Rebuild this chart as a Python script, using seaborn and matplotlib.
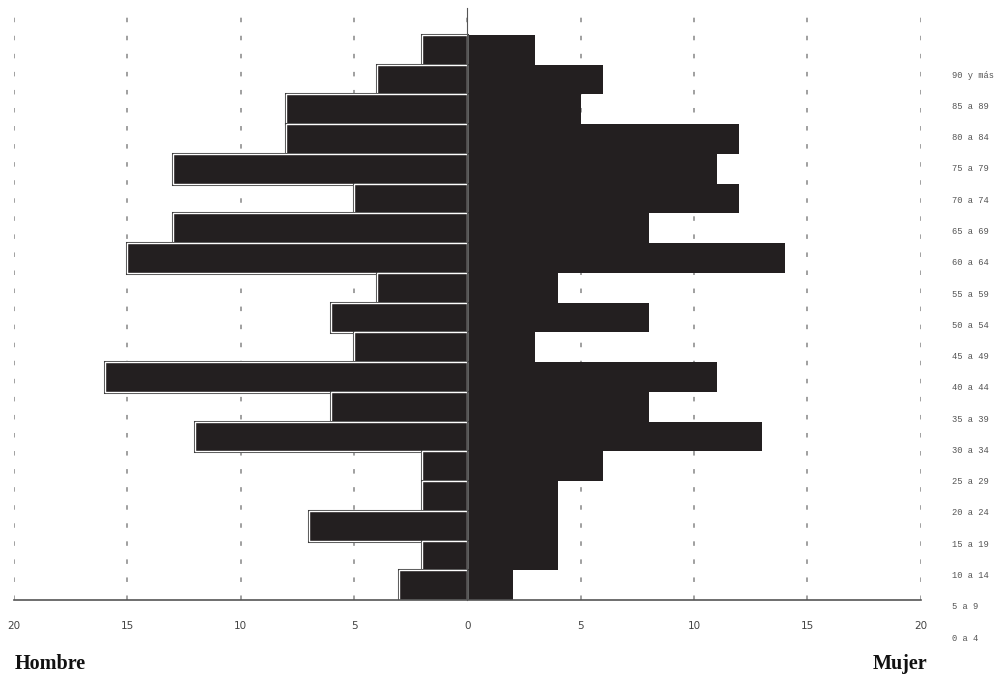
import seaborn as sns
import matplotlib.pyplot as plt
import matplotlib.patheffects as pe
import pandas as pd

# age groups, oldest first (top of the pyramid)
edades = ['90 y más', '85 a 89', '80 a 84', '75 a 79', '70 a 74', '65 a 69',
          '60 a 64', '55 a 59', '50 a 54', '45 a 49', '40 a 44', '35 a 39',
          '30 a 34', '25 a 29', '20 a 24', '15 a 19', '10 a 14', '5 a 9', '0 a 4']
hombres = [2, 4, 8, 8, 13, 5, 13, 15, 4, 6, 5, 16, 6, 12, 2, 2, 7, 2, 3]
mujeres = [3, 6, 5, 12, 11, 12, 8, 14, 4, 8, 3, 11, 8, 13, 6, 4, 4, 4, 2]
xticks = [-20, -15, -10, -5, 0, 5, 10, 15, 20]

df = pd.DataFrame({'edad': edades, 'hombre': [-v for v in hombres], 'mujer': mujeres})

sns.set_style('white')
fig = plt.figure(figsize=(10.03, 6.74), dpi=100)
ax = fig.add_axes([0.014, 0.1098, 0.904, 0.878])

dark = '#231f20'
sns.barplot(data=df, x='mujer', y='edad', order=edades, orient='h', width=1,
            color=dark, saturation=1, linewidth=0, ax=ax)
n_before = len(ax.patches)
sns.barplot(data=df, x='hombre', y='edad', order=edades, orient='h', width=1,
            color=dark, saturation=1, edgecolor='white', linewidth=1.0, ax=ax)
for p in ax.patches[n_before:]:
    p.set_path_effects([pe.Stroke(linewidth=2.2, foreground='#3a3a3a'), pe.Normal()])

ax.set_xlim(-20, 20)
ax.set_ylim(18.5, -1.4)
ax.set_xticks(xticks)
ax.set_xticklabels([str(abs(t)) for t in xticks], fontsize=7.5, color='#444444')
ax.tick_params(axis='x', direction='inout', length=6, color='#555555', pad=12)
ax.set_yticks([-1.38, -0.93])
ax.set_yticklabels([])
ax.tick_params(axis='y', direction='inout', length=5, color='#555555')
ax.set_xlabel('')
ax.set_ylabel('')

for s in ['top', 'right']:
    ax.spines[s].set_visible(False)
ax.spines['left'].set_position(('data', 0))
ax.spines['left'].set_color('#555555')
ax.spines['bottom'].set_color('#555555')
ax.spines['bottom'].set_linewidth(1.2)

ax.set_axisbelow(True)
ax.grid(axis='x', linestyle=(0, (2.5, 7.5)), color='#999999', linewidth=1.3)
ax.grid(axis='y', visible=False)

# age labels on the right, slightly offset like the original
for j, lab in enumerate(edades):
    ax.text(21.4, 0.85 + j * 1.0517, lab, fontsize=6.3, family='Liberation Mono',
            color='#555555', va='center', ha='left', clip_on=False)

fig.text(0.015, 0.0, 'Hombre', fontsize=14.5, fontweight='bold',
         family='Liberation Serif', color='#111111', va='bottom', ha='left')
fig.text(0.925, 0.0, 'Mujer', fontsize=14.5, fontweight='bold',
         family='Liberation Serif', color='#111111', va='bottom', ha='right')

fig.savefig('out.png', dpi=100)
